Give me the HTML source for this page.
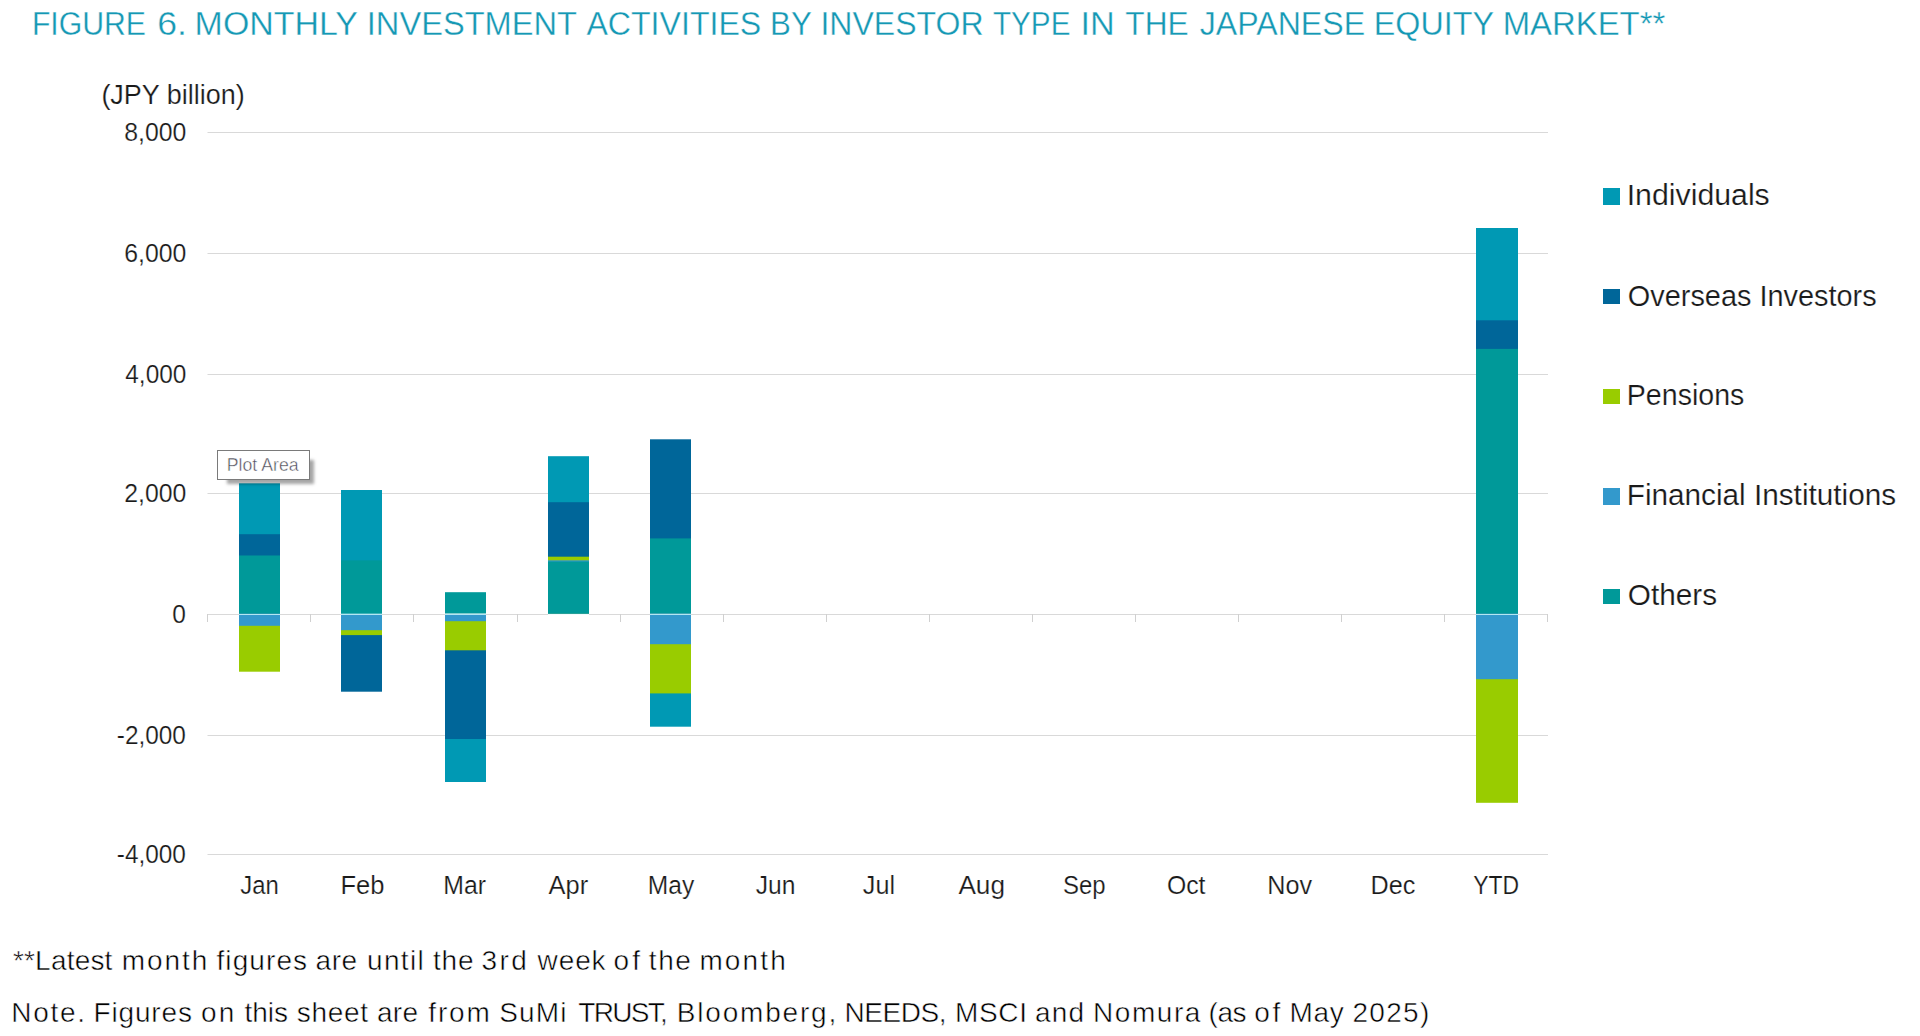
<!DOCTYPE html>
<html><head><meta charset="utf-8"><title>Figure 6</title>
<style>
html,body{margin:0;padding:0;background:#fff;}
body{width:1920px;height:1036px;overflow:hidden;position:relative;}
svg{position:absolute;left:0;top:0;}
text{font-family:"Liberation Sans",sans-serif;}
.tip{position:absolute;left:217px;top:450px;width:91px;height:28px;border:1px solid #7a7a7a;background:#fff;
 box-shadow:7px 7px 3px -3px rgba(0,0,0,0.35);}
</style></head><body>
<svg width="1920" height="1036" viewBox="0 0 1920 1036">
<rect x="207.5" y="132" width="1340.5" height="1" fill="#d9d9d9"/>
<rect x="207.5" y="253" width="1340.5" height="1" fill="#d9d9d9"/>
<rect x="207.5" y="374" width="1340.5" height="1" fill="#d9d9d9"/>
<rect x="207.5" y="493" width="1340.5" height="1" fill="#d9d9d9"/>
<rect x="207.5" y="735" width="1340.5" height="1" fill="#d9d9d9"/>
<rect x="207.5" y="854" width="1340.5" height="1" fill="#d9d9d9"/>
<rect x="207.5" y="614" width="1340.5" height="1" fill="#d9d9d9"/>
<rect x="239" y="483.3" width="41.00" height="130.20" fill="#0099b4"/>
<rect x="239" y="534.2" width="41.00" height="79.30" fill="#006699"/>
<rect x="239" y="555.5" width="41.00" height="58.00" fill="#009999"/>
<rect x="239" y="614.5" width="41.00" height="57.20" fill="#99cc00"/>
<rect x="239" y="614.5" width="41.00" height="11.30" fill="#3399cc"/>
<rect x="239" y="614" width="41.00" height="1" fill="#b4e6f2"/>
<rect x="341" y="490" width="41.00" height="123.50" fill="#0099b4"/>
<rect x="341" y="560.4" width="41.00" height="53.10" fill="#009999"/>
<rect x="341" y="614.5" width="41.00" height="77.20" fill="#006699"/>
<rect x="341" y="614.5" width="41.00" height="20.60" fill="#99cc00"/>
<rect x="341" y="614.5" width="41.00" height="15.70" fill="#3399cc"/>
<rect x="341" y="614" width="41.00" height="1" fill="#b4e6f2"/>
<rect x="445" y="592.2" width="41.00" height="21.30" fill="#009999"/>
<rect x="445" y="614.5" width="41.00" height="167.50" fill="#0099b4"/>
<rect x="445" y="614.5" width="41.00" height="124.50" fill="#006699"/>
<rect x="445" y="614.5" width="41.00" height="35.80" fill="#99cc00"/>
<rect x="445" y="614.5" width="41.00" height="6.70" fill="#3399cc"/>
<rect x="445" y="614" width="41.00" height="1" fill="#b4e6f2"/>
<rect x="548" y="456.2" width="41.00" height="157.30" fill="#0099b4"/>
<rect x="548" y="502.2" width="41.00" height="111.30" fill="#006699"/>
<rect x="548" y="556.7" width="41.00" height="56.80" fill="#99cc00"/>
<rect x="548" y="560.3" width="41.00" height="53.20" fill="#3399cc"/>
<rect x="548" y="561.5" width="41.00" height="52.00" fill="#009999"/>
<rect x="548" y="614" width="41.00" height="1" fill="#f2fbfd"/>
<rect x="650" y="439.3" width="41.00" height="174.20" fill="#006699"/>
<rect x="650" y="538.4" width="41.00" height="75.10" fill="#009999"/>
<rect x="650" y="614.5" width="41.00" height="112.20" fill="#0099b4"/>
<rect x="650" y="614.5" width="41.00" height="78.90" fill="#99cc00"/>
<rect x="650" y="614.5" width="41.00" height="29.70" fill="#3399cc"/>
<rect x="650" y="614" width="41.00" height="1" fill="#b4e6f2"/>
<rect x="1476" y="228" width="42.00" height="385.50" fill="#0099b4"/>
<rect x="1476" y="320.3" width="42.00" height="293.20" fill="#006699"/>
<rect x="1476" y="348.9" width="42.00" height="264.60" fill="#009999"/>
<rect x="1476" y="614.5" width="42.00" height="188.30" fill="#99cc00"/>
<rect x="1476" y="614.5" width="42.00" height="64.70" fill="#3399cc"/>
<rect x="1476" y="614" width="42.00" height="1" fill="#b4e6f2"/>
<rect x="207" y="614" width="1" height="8" fill="#d0d0d0"/>
<rect x="310" y="614" width="1" height="8" fill="#d0d0d0"/>
<rect x="413" y="614" width="1" height="8" fill="#d0d0d0"/>
<rect x="517" y="614" width="1" height="8" fill="#d0d0d0"/>
<rect x="620" y="614" width="1" height="8" fill="#d0d0d0"/>
<rect x="723" y="614" width="1" height="8" fill="#d0d0d0"/>
<rect x="826" y="614" width="1" height="8" fill="#d0d0d0"/>
<rect x="929" y="614" width="1" height="8" fill="#d0d0d0"/>
<rect x="1032" y="614" width="1" height="8" fill="#d0d0d0"/>
<rect x="1135" y="614" width="1" height="8" fill="#d0d0d0"/>
<rect x="1238" y="614" width="1" height="8" fill="#d0d0d0"/>
<rect x="1341" y="614" width="1" height="8" fill="#d0d0d0"/>
<rect x="1444" y="614" width="1" height="8" fill="#d0d0d0"/>
<rect x="1547" y="614" width="1" height="8" fill="#d0d0d0"/>
<rect x="1603" y="188" width="17" height="17" fill="#0099b4"/>
<rect x="1603" y="289" width="17" height="15" fill="#006699"/>
<rect x="1603" y="389" width="17" height="15" fill="#99cc00"/>
<rect x="1603" y="488" width="17" height="17" fill="#3399cc"/>
<rect x="1603" y="589" width="17" height="15" fill="#009999"/>
<text x="31.89" y="35" font-size="32.5" fill="#1598b4" stroke="#fff" stroke-width="0.35" textLength="114.14" lengthAdjust="spacingAndGlyphs">FIGURE</text>
<text x="157.30" y="35" font-size="32.5" fill="#1598b4" stroke="#fff" stroke-width="0.35" textLength="29.70" lengthAdjust="spacingAndGlyphs">6.</text>
<text x="194.61" y="35" font-size="32.5" fill="#1598b4" stroke="#fff" stroke-width="0.35" textLength="163.41" lengthAdjust="spacingAndGlyphs">MONTHLY</text>
<text x="366.79" y="35" font-size="32.5" fill="#1598b4" stroke="#fff" stroke-width="0.35" textLength="210.28" lengthAdjust="spacingAndGlyphs">INVESTMENT</text>
<text x="586.40" y="35" font-size="32.5" fill="#1598b4" stroke="#fff" stroke-width="0.35" textLength="174.87" lengthAdjust="spacingAndGlyphs">ACTIVITIES</text>
<text x="770.08" y="35" font-size="32.5" fill="#1598b4" stroke="#fff" stroke-width="0.35" textLength="41.67" lengthAdjust="spacingAndGlyphs">BY</text>
<text x="820.44" y="35" font-size="32.5" fill="#1598b4" stroke="#fff" stroke-width="0.35" textLength="163.08" lengthAdjust="spacingAndGlyphs">INVESTOR</text>
<text x="993.00" y="35" font-size="32.5" fill="#1598b4" stroke="#fff" stroke-width="0.35" textLength="77.41" lengthAdjust="spacingAndGlyphs">TYPE</text>
<text x="1080.64" y="35" font-size="32.5" fill="#1598b4" stroke="#fff" stroke-width="0.35" textLength="34.19" lengthAdjust="spacingAndGlyphs">IN</text>
<text x="1125.30" y="35" font-size="32.5" fill="#1598b4" stroke="#fff" stroke-width="0.35" textLength="63.38" lengthAdjust="spacingAndGlyphs">THE</text>
<text x="1199.70" y="35" font-size="32.5" fill="#1598b4" stroke="#fff" stroke-width="0.35" textLength="165.46" lengthAdjust="spacingAndGlyphs">JAPANESE</text>
<text x="1373.81" y="35" font-size="32.5" fill="#1598b4" stroke="#fff" stroke-width="0.35" textLength="120.18" lengthAdjust="spacingAndGlyphs">EQUITY</text>
<text x="1502.68" y="35" font-size="32.5" fill="#1598b4" stroke="#fff" stroke-width="0.35" textLength="162.57" lengthAdjust="spacingAndGlyphs">MARKET**</text>
<text x="101.40" y="103.8" font-size="27" fill="#1a1a1a" stroke="#fff" stroke-width="0.2" textLength="143.36" lengthAdjust="spacingAndGlyphs">(JPY billion)</text>
<text x="124.33" y="140.6" font-size="25.5" fill="#1a1a1a" stroke="#fff" stroke-width="0.2" textLength="62.06" lengthAdjust="spacingAndGlyphs">8,000</text>
<text x="124.33" y="261.6" font-size="25.5" fill="#1a1a1a" stroke="#fff" stroke-width="0.2" textLength="62.06" lengthAdjust="spacingAndGlyphs">6,000</text>
<text x="125.30" y="382.6" font-size="25.5" fill="#1a1a1a" stroke="#fff" stroke-width="0.2" textLength="61.08" lengthAdjust="spacingAndGlyphs">4,000</text>
<text x="124.33" y="501.6" font-size="25.5" fill="#1a1a1a" stroke="#fff" stroke-width="0.2" textLength="62.06" lengthAdjust="spacingAndGlyphs">2,000</text>
<text x="172.14" y="622.6" font-size="25.5" fill="#1a1a1a" stroke="#fff" stroke-width="0.2" textLength="13.64" lengthAdjust="spacingAndGlyphs">0</text>
<text x="116.85" y="743.6" font-size="25.5" fill="#1a1a1a" stroke="#fff" stroke-width="0.2" textLength="69.05" lengthAdjust="spacingAndGlyphs">-2,000</text>
<text x="116.85" y="862.6" font-size="25.5" fill="#1a1a1a" stroke="#fff" stroke-width="0.2" textLength="69.05" lengthAdjust="spacingAndGlyphs">-4,000</text>
<text x="240.30" y="893.8" font-size="25.5" fill="#1a1a1a" stroke="#fff" stroke-width="0.2" textLength="38.55" lengthAdjust="spacingAndGlyphs">Jan</text>
<text x="340.40" y="893.8" font-size="25.5" fill="#1a1a1a" stroke="#fff" stroke-width="0.2" textLength="44.06" lengthAdjust="spacingAndGlyphs">Feb</text>
<text x="443.36" y="893.8" font-size="25.5" fill="#1a1a1a" stroke="#fff" stroke-width="0.2" textLength="42.67" lengthAdjust="spacingAndGlyphs">Mar</text>
<text x="548.60" y="893.8" font-size="25.5" fill="#1a1a1a" stroke="#fff" stroke-width="0.2" textLength="39.59" lengthAdjust="spacingAndGlyphs">Apr</text>
<text x="647.77" y="893.8" font-size="25.5" fill="#1a1a1a" stroke="#fff" stroke-width="0.2" textLength="46.41" lengthAdjust="spacingAndGlyphs">May</text>
<text x="755.80" y="893.8" font-size="25.5" fill="#1a1a1a" stroke="#fff" stroke-width="0.2" textLength="39.69" lengthAdjust="spacingAndGlyphs">Jun</text>
<text x="862.80" y="893.8" font-size="25.5" fill="#1a1a1a" stroke="#fff" stroke-width="0.2" textLength="32.19" lengthAdjust="spacingAndGlyphs">Jul</text>
<text x="958.40" y="893.8" font-size="25.5" fill="#1a1a1a" stroke="#fff" stroke-width="0.2" textLength="46.61" lengthAdjust="spacingAndGlyphs">Aug</text>
<text x="1063.06" y="893.8" font-size="25.5" fill="#1a1a1a" stroke="#fff" stroke-width="0.2" textLength="42.59" lengthAdjust="spacingAndGlyphs">Sep</text>
<text x="1166.93" y="893.8" font-size="25.5" fill="#1a1a1a" stroke="#fff" stroke-width="0.2" textLength="38.55" lengthAdjust="spacingAndGlyphs">Oct</text>
<text x="1267.22" y="893.8" font-size="25.5" fill="#1a1a1a" stroke="#fff" stroke-width="0.2" textLength="44.83" lengthAdjust="spacingAndGlyphs">Nov</text>
<text x="1370.52" y="893.8" font-size="25.5" fill="#1a1a1a" stroke="#fff" stroke-width="0.2" textLength="44.83" lengthAdjust="spacingAndGlyphs">Dec</text>
<text x="1473.30" y="893.8" font-size="25.5" fill="#1a1a1a" stroke="#fff" stroke-width="0.2" textLength="45.90" lengthAdjust="spacingAndGlyphs">YTD</text>
<text x="1626.71" y="205.0" font-size="29" fill="#1a1a1a" stroke="#fff" stroke-width="0.2" textLength="143.06" lengthAdjust="spacingAndGlyphs">Individuals</text>
<text x="1627.80" y="305.6" font-size="29" fill="#1a1a1a" stroke="#fff" stroke-width="0.2" textLength="248.82" lengthAdjust="spacingAndGlyphs">Overseas Investors</text>
<text x="1626.83" y="405.2" font-size="29" fill="#1a1a1a" stroke="#fff" stroke-width="0.2" textLength="117.48" lengthAdjust="spacingAndGlyphs">Pensions</text>
<text x="1626.75" y="505.0" font-size="29" fill="#1a1a1a" stroke="#fff" stroke-width="0.2" textLength="269.32" lengthAdjust="spacingAndGlyphs">Financial Institutions</text>
<text x="1627.77" y="605.2" font-size="29" fill="#1a1a1a" stroke="#fff" stroke-width="0.2" textLength="89.28" lengthAdjust="spacingAndGlyphs">Others</text>
<text x="12.90" y="970.0" font-size="28" fill="#000" stroke="#fff" stroke-width="0.5" textLength="99.48" lengthAdjust="spacing">**Latest</text>
<text x="121.75" y="970.0" font-size="28" fill="#000" stroke="#fff" stroke-width="0.5" textLength="85.48" lengthAdjust="spacing">month</text>
<text x="216.50" y="970.0" font-size="28" fill="#000" stroke="#fff" stroke-width="0.5" textLength="90.55" lengthAdjust="spacing">figures</text>
<text x="315.50" y="970.0" font-size="28" fill="#000" stroke="#fff" stroke-width="0.5" textLength="41.67" lengthAdjust="spacing">are</text>
<text x="367.00" y="970.0" font-size="28" fill="#000" stroke="#fff" stroke-width="0.5" textLength="56.68" lengthAdjust="spacing">until</text>
<text x="432.90" y="970.0" font-size="28" fill="#000" stroke="#fff" stroke-width="0.5" textLength="40.74" lengthAdjust="spacing">the</text>
<text x="481.60" y="970.0" font-size="28" fill="#000" stroke="#fff" stroke-width="0.5" textLength="45.27" lengthAdjust="spacing">3rd</text>
<text x="537.60" y="970.0" font-size="28" fill="#000" stroke="#fff" stroke-width="0.5" textLength="67.98" lengthAdjust="spacing">week</text>
<text x="613.40" y="970.0" font-size="28" fill="#000" stroke="#fff" stroke-width="0.5" textLength="26.66" lengthAdjust="spacing">of</text>
<text x="648.70" y="970.0" font-size="28" fill="#000" stroke="#fff" stroke-width="0.5" textLength="42.24" lengthAdjust="spacing">the</text>
<text x="699.40" y="970.0" font-size="28" fill="#000" stroke="#fff" stroke-width="0.5" textLength="86.33" lengthAdjust="spacing">month</text>
<text x="11.30" y="1022.0" font-size="28" fill="#000" stroke="#fff" stroke-width="0.5" textLength="73.74" lengthAdjust="spacing">Note.</text>
<text x="93.60" y="1022.0" font-size="28" fill="#000" stroke="#fff" stroke-width="0.5" textLength="98.28" lengthAdjust="spacing">Figures</text>
<text x="200.90" y="1022.0" font-size="28" fill="#000" stroke="#fff" stroke-width="0.5" textLength="33.36" lengthAdjust="spacing">on</text>
<text x="244.60" y="1022.0" font-size="28" fill="#000" stroke="#fff" stroke-width="0.5" textLength="43.28" lengthAdjust="spacing">this</text>
<text x="296.70" y="1022.0" font-size="28" fill="#000" stroke="#fff" stroke-width="0.5" textLength="71.30" lengthAdjust="spacing">sheet</text>
<text x="376.90" y="1022.0" font-size="28" fill="#000" stroke="#fff" stroke-width="0.5" textLength="41.07" lengthAdjust="spacing">are</text>
<text x="428.30" y="1022.0" font-size="28" fill="#000" stroke="#fff" stroke-width="0.5" textLength="61.45" lengthAdjust="spacing">from</text>
<text x="499.20" y="1022.0" font-size="28" fill="#000" stroke="#fff" stroke-width="0.5" textLength="67.40" lengthAdjust="spacing">SuMi</text>
<text x="578.30" y="1022.0" font-size="28" fill="#000" stroke="#fff" stroke-width="0.5" textLength="89.50" lengthAdjust="spacing">TRUST,</text>
<text x="676.75" y="1022.0" font-size="28" fill="#000" stroke="#fff" stroke-width="0.5" textLength="159.44" lengthAdjust="spacing">Bloomberg,</text>
<text x="844.50" y="1022.0" font-size="28" fill="#000" stroke="#fff" stroke-width="0.5" textLength="102.15" lengthAdjust="spacing">NEEDS,</text>
<text x="954.90" y="1022.0" font-size="28" fill="#000" stroke="#fff" stroke-width="0.5" textLength="72.10" lengthAdjust="spacing">MSCI</text>
<text x="1035.00" y="1022.0" font-size="28" fill="#000" stroke="#fff" stroke-width="0.5" textLength="49.02" lengthAdjust="spacing">and</text>
<text x="1093.10" y="1022.0" font-size="28" fill="#000" stroke="#fff" stroke-width="0.5" textLength="107.29" lengthAdjust="spacing">Nomura</text>
<text x="1208.40" y="1022.0" font-size="28" fill="#000" stroke="#fff" stroke-width="0.5" textLength="38.21" lengthAdjust="spacing">(as</text>
<text x="1254.30" y="1022.0" font-size="28" fill="#000" stroke="#fff" stroke-width="0.5" textLength="25.96" lengthAdjust="spacing">of</text>
<text x="1289.60" y="1022.0" font-size="28" fill="#000" stroke="#fff" stroke-width="0.5" textLength="54.21" lengthAdjust="spacing">May</text>
<text x="1352.50" y="1022.0" font-size="28" fill="#000" stroke="#fff" stroke-width="0.5" textLength="76.72" lengthAdjust="spacing">2025)</text>
</svg>
<div class="tip"></div>
<svg width="1920" height="1036">
<text x="226.82" y="471.1" font-size="18" fill="#4a4a55" stroke="#fff" stroke-width="0.45" textLength="71.73" lengthAdjust="spacingAndGlyphs">Plot Area</text>
</svg>
</body></html>
